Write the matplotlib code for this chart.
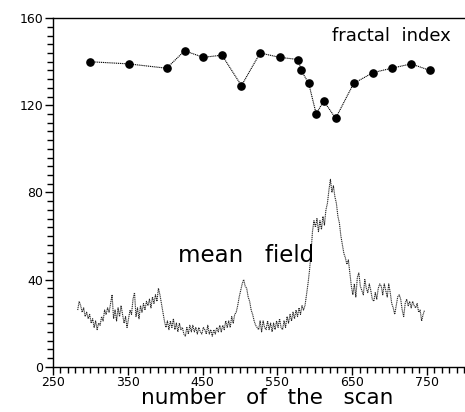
import matplotlib
matplotlib.use("Agg")
import matplotlib.pyplot as plt
from matplotlib.ticker import MultipleLocator

# fractal index (markers)
fi_scan = [299, 351, 402, 426, 451, 476, 502, 527, 553, 578, 582, 592, 602, 612, 628, 652, 678, 703, 729, 754]
fi_val = [140, 139, 137, 145, 142, 143, 129, 144, 142, 141, 136, 130, 116, 122, 114, 130, 135, 137, 139, 136]

# mean field (noisy curve), one value every 2 scans starting at scan 283
mf_start = 283
mf_val = [26, 30, 28, 25, 27, 23, 25, 22, 24, 20, 22, 18, 21, 17, 20, 19, 23, 21, 26, 24,
          27, 25, 29, 33, 22, 26, 21, 27, 23, 28, 24, 20, 23, 18, 22, 26, 24, 31, 34, 23,
          27, 22, 28, 25, 29, 26, 30, 28, 31, 27, 32, 29, 33, 30, 36, 33, 29, 25, 21, 18,
          21, 17, 21, 18, 22, 17, 20, 16, 20, 17, 18, 15, 14, 18, 15, 19, 16, 19, 16, 18,
          15, 18, 16, 15, 18, 17, 15, 19, 15, 17, 14, 17, 15, 18, 16, 19, 16, 19, 17, 21,
          18, 21, 18, 23, 20, 24, 25, 28, 32, 35, 38, 40, 37, 36, 32, 30, 26, 24, 21, 19,
          18, 17, 21, 16, 21, 18, 17, 21, 17, 20, 16, 20, 17, 21, 18, 22, 18, 17, 21, 18,
          23, 20, 24, 21, 25, 22, 26, 23, 27, 24, 28, 26, 28, 33, 38, 44, 52, 62, 67, 64,
          68, 62, 67, 63, 69, 65, 72, 75, 81, 86, 80, 83, 78, 75, 69, 66, 60, 56, 52, 50,
          47, 49, 43, 37, 33, 38, 32, 41, 43, 37, 35, 33, 40, 36, 34, 38, 35, 31, 30, 34,
          31, 36, 38, 37, 33, 38, 35, 32, 38, 34, 29, 27, 24, 28, 32, 33, 31, 26, 23, 29,
          31, 28, 30, 27, 30, 28, 27, 29, 25, 26, 21, 24, 26]
mf_scan = [mf_start + 2 * i for i in range(len(mf_val))]

x_ticks = [250, 350, 450, 550, 650, 750]
y_ticks = [0, 40, 80, 120, 160]

fig = plt.figure(figsize=(4.65, 4.12), dpi=100)
ax = fig.add_axes([0.114, 0.11, 0.886, 0.846])

ax.plot(fi_scan, fi_val, color="black", lw=0.8, linestyle=(0, (1, 0.7)),
        marker="o", markersize=5.2, markerfacecolor="black", markeredgecolor="black")
ax.plot(mf_scan, mf_val, color="#222222", lw=0.8, linestyle=(0, (1, 0.7)))

ax.set_xlim(250, 801)
ax.set_ylim(0, 160)
ax.set_xticks(x_ticks)
ax.set_yticks(y_ticks)
ax.xaxis.set_minor_locator(MultipleLocator(10))
ax.yaxis.set_minor_locator(MultipleLocator(4))
ax.tick_params(which="major", direction="out", length=6, width=1, labelsize=9, pad=1)
ax.tick_params(which="minor", direction="out", length=4, width=1)
ax.spines["right"].set_visible(False)
for s in ["left", "bottom", "top"]:
    ax.spines[s].set_linewidth(1.0)

ax.set_xlabel("number   of   the   scan", fontsize=15.5, labelpad=0)
ax.xaxis.set_label_coords(0.52, -0.062)
ax.text(0.965, 0.975, "fractal  index", transform=ax.transAxes, ha="right", va="top", fontsize=13)
ax.text(417, 51, "mean   field", ha="left", va="center", fontsize=16.5)

fig.savefig("out.png", dpi=100)
